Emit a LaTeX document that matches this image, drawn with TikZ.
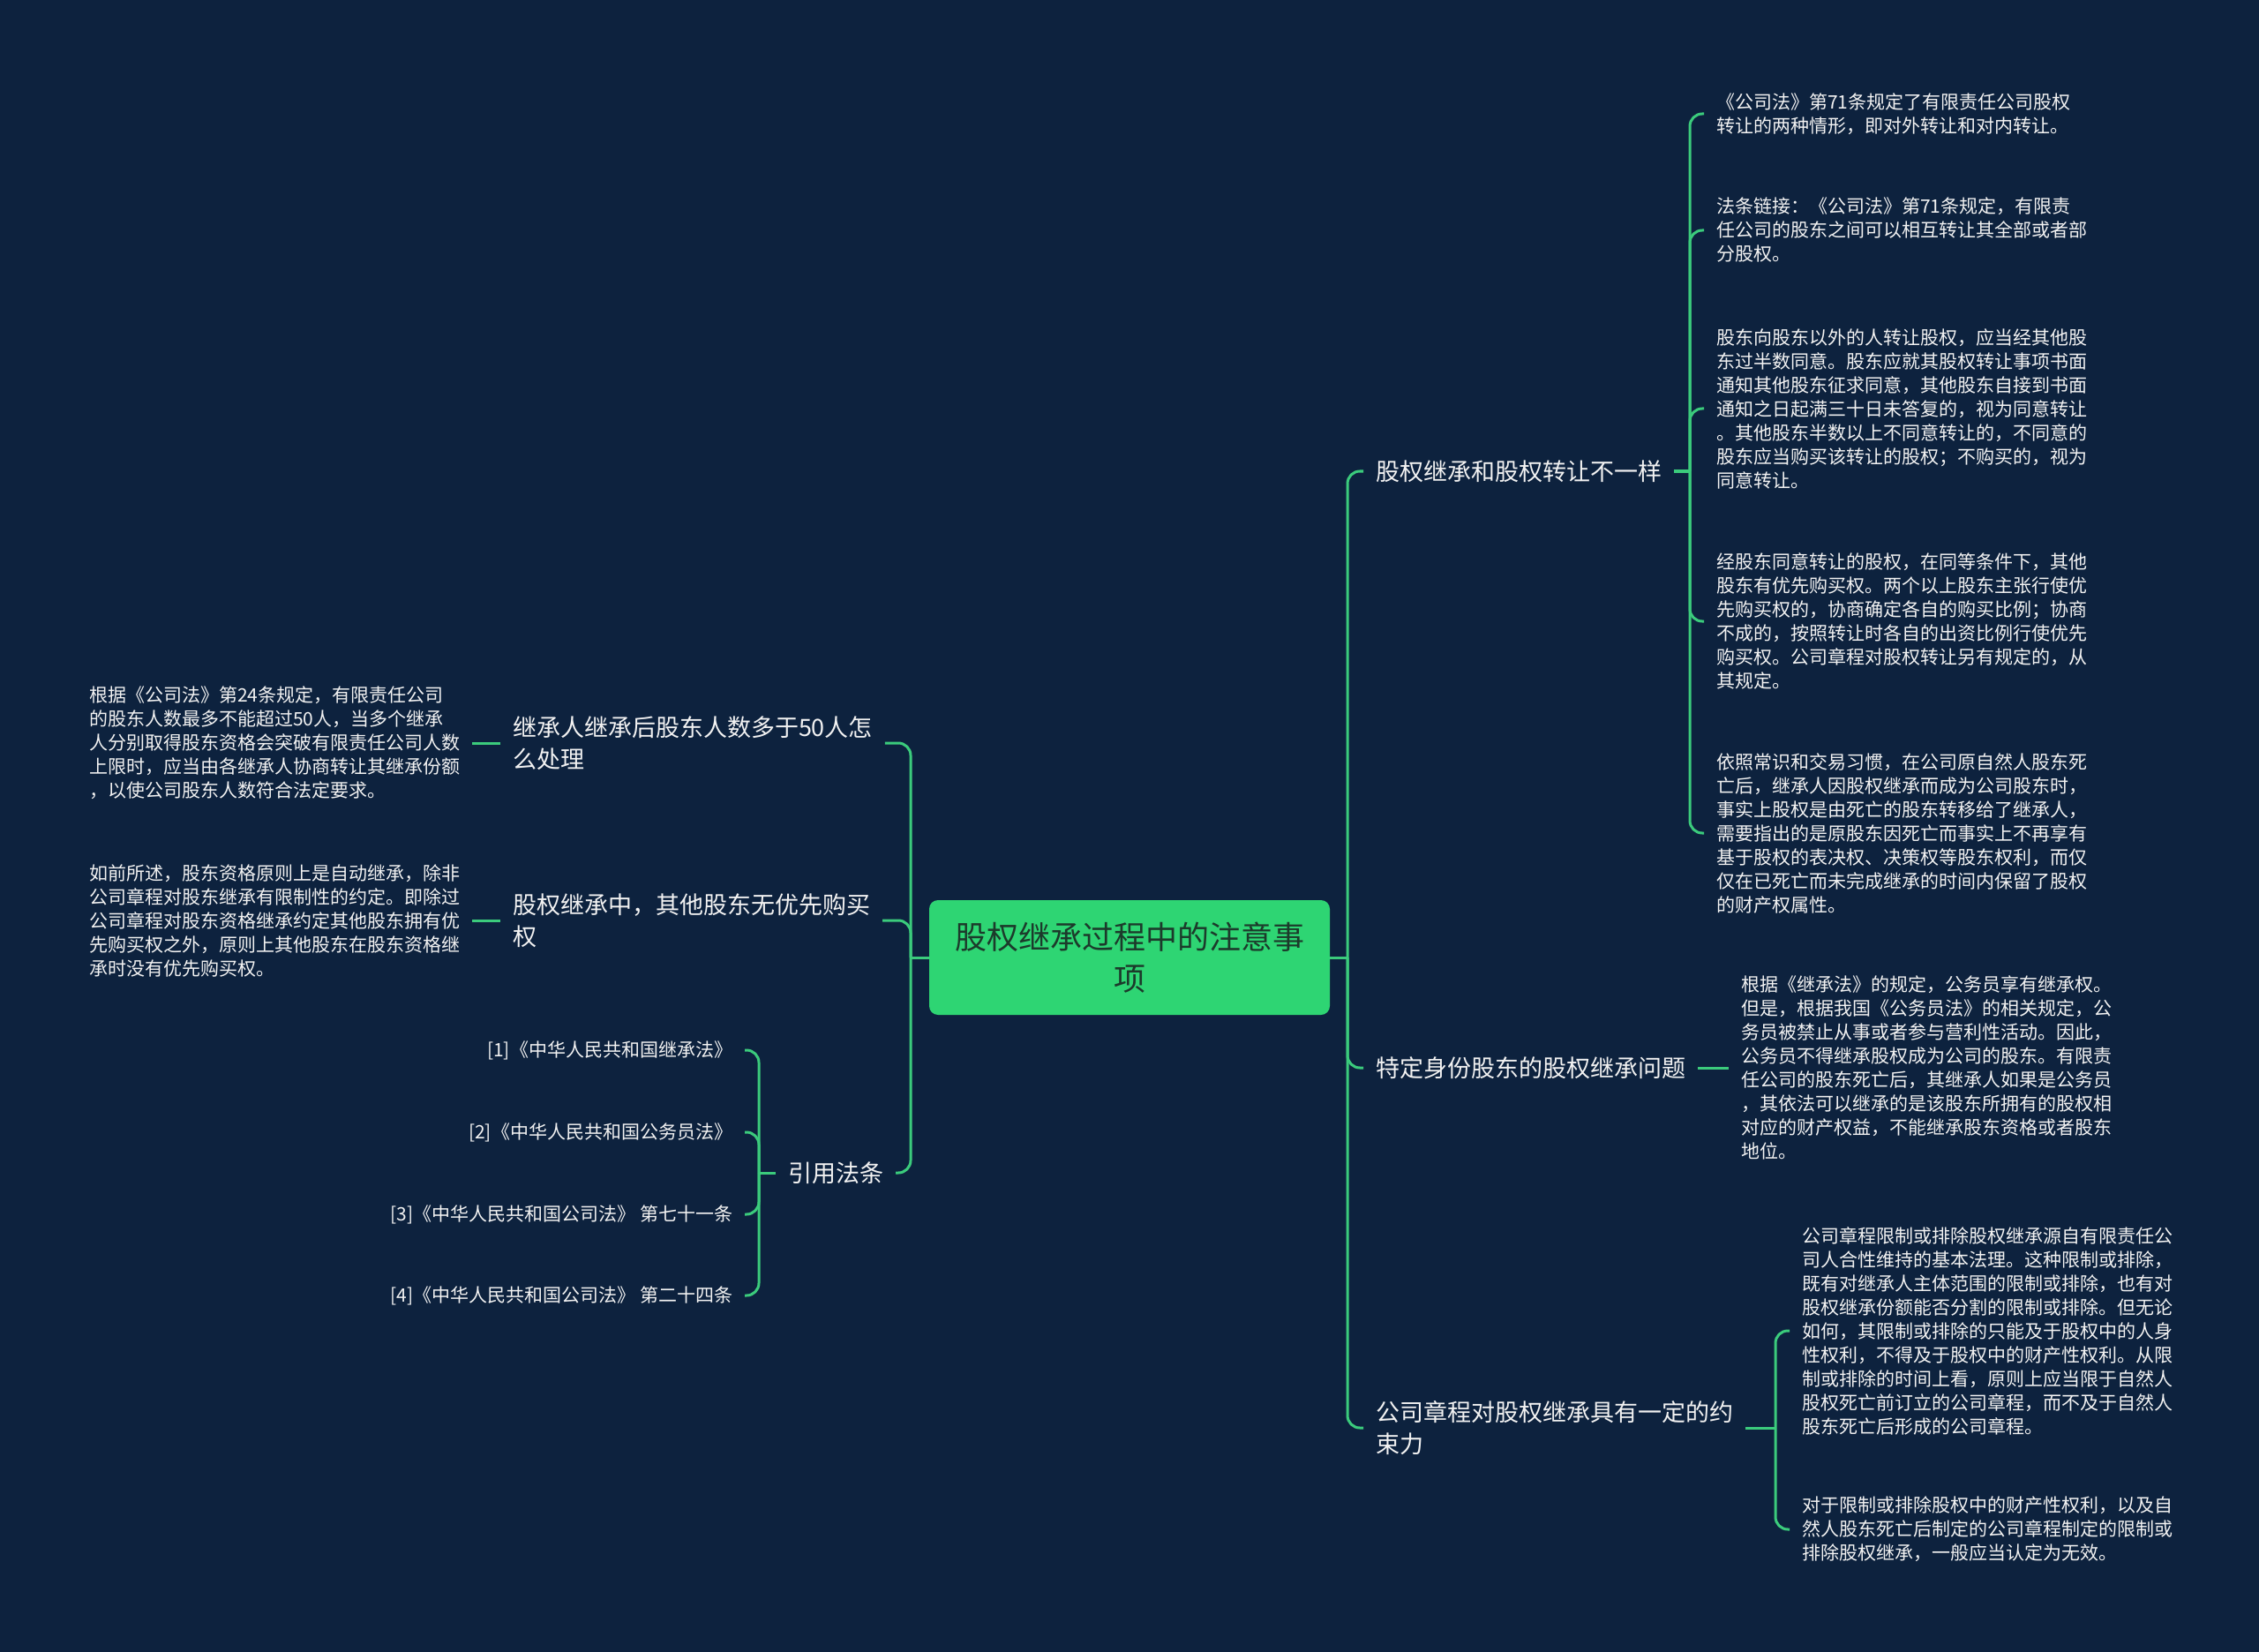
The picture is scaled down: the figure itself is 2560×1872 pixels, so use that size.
\documentclass[tikz,border=0pt]{standalone}
\usepackage{fontspec}
\setmainfont{Noto Sans CJK SC}
\usetikzlibrary{calc}
\definecolor{bg}{HTML}{0D223E}
\definecolor{lineg}{HTML}{3BCB7C}
\definecolor{rootg}{HTML}{2ED573}
\definecolor{roottxt}{HTML}{1C3A2B}
\definecolor{txt}{HTML}{F2F2F2}
\begin{document}
\begin{tikzpicture}[x=0.5pt,y=-0.5pt,
  conn/.style={draw=lineg,line width=1.5pt,rounded corners=7pt},
  leaf/.style={text=txt,font=\fontsize{10.5pt}{13.5pt}\selectfont,align=left,inner sep=0pt,outer xsep=7pt,outer ysep=0pt},
  branch/.style={text=txt,font=\fontsize{13.5pt}{18pt}\selectfont,align=left,inner sep=0pt,outer xsep=7pt,outer ysep=0pt},
  rootbox/.style={fill=rootg,rounded corners=5pt,minimum width=227pt,minimum height=65pt,align=center,
    text=roottxt,font=\fontsize{18pt}{23.5pt}\selectfont,inner sep=0pt,outer sep=0pt}]
\useasboundingbox (0,0) rectangle (2560,1872);
\fill[bg] (0,0) rectangle (2560,1872);

% root
\node[rootbox] (root) at (1280,1085) {股权继承过程中的注意事\\项};

% right branches
\node[branch,anchor=west] (b1) at (1545,534) {股权继承和股权转让不一样};
\node[branch,anchor=west] (b2) at (1545,1210) {特定身份股东的股权继承问题};
\node[branch,anchor=west] (b3) at (1545,1618) {公司章程对股权继承具有一定的约\\束力};

% right leaves of b1
\node[leaf,anchor=west] (r1) at (1931,129) {《公司法》第71条规定了有限责任公司股权\\转让的两种情形，即对外转让和对内转让。};
\node[leaf,anchor=west] (r2) at (1931,261) {法条链接：《公司法》第71条规定，有限责\\任公司的股东之间可以相互转让其全部或者部\\分股权。};
\node[leaf,anchor=west] (r3) at (1931,463) {股东向股东以外的人转让股权，应当经其他股\\东过半数同意。股东应就其股权转让事项书面\\通知其他股东征求同意，其他股东自接到书面\\通知之日起满三十日未答复的，视为同意转让\\。其他股东半数以上不同意转让的，不同意的\\股东应当购买该转让的股权；不购买的，视为\\同意转让。};
\node[leaf,anchor=west] (r4) at (1931,704) {经股东同意转让的股权，在同等条件下，其他\\股东有优先购买权。两个以上股东主张行使优\\先购买权的，协商确定各自的购买比例；协商\\不成的，按照转让时各自的出资比例行使优先\\购买权。公司章程对股权转让另有规定的，从\\其规定。};
\node[leaf,anchor=west] (r5) at (1931,944) {依照常识和交易习惯，在公司原自然人股东死\\亡后，继承人因股权继承而成为公司股东时，\\事实上股权是由死亡的股东转移给了继承人，\\需要指出的是原股东因死亡而事实上不再享有\\基于股权的表决权、决策权等股东权利，而仅\\仅在已死亡而未完成继承的时间内保留了股权\\的财产权属性。};

% leaf of b2
\node[leaf,anchor=west] (q1) at (1959,1210) {根据《继承法》的规定，公务员享有继承权。\\但是，根据我国《公务员法》的相关规定，公\\务员被禁止从事或者参与营利性活动。因此，\\公务员不得继承股权成为公司的股东。有限责\\任公司的股东死亡后，其继承人如果是公务员\\，其依法可以继承的是该股东所拥有的股权相\\对应的财产权益，不能继承股东资格或者股东\\地位。};

% leaves of b3
\node[leaf,anchor=west] (p1) at (2028,1508) {公司章程限制或排除股权继承源自有限责任公\\司人合性维持的基本法理。这种限制或排除，\\既有对继承人主体范围的限制或排除，也有对\\股权继承份额能否分割的限制或排除。但无论\\如何，其限制或排除的只能及于股权中的人身\\性权利，不得及于股权中的财产性权利。从限\\制或排除的时间上看，原则上应当限于自然人\\股权死亡前订立的公司章程，而不及于自然人\\股东死亡后形成的公司章程。};
\node[leaf,anchor=west] (p2) at (2028,1733) {对于限制或排除股权中的财产性权利，以及自\\然人股东死亡后制定的公司章程制定的限制或\\排除股权继承，一般应当认定为无效。};

% left branches
\node[branch,anchor=west] (L1) at (567,842) {继承人继承后股东人数多于50人怎\\么处理};
\node[branch,anchor=west] (L2) at (567,1043) {股权继承中，其他股东无优先购买\\权};
\node[branch,anchor=west] (L3) at (879,1329) {引用法条};

\node[leaf,anchor=west] (LL1) at (87,842) {根据《公司法》第24条规定，有限责任公司\\的股东人数最多不能超过50人，当多个继承\\人分别取得股东资格会突破有限责任公司人数\\上限时，应当由各继承人协商转让其继承份额\\，以使公司股东人数符合法定要求。};
\node[leaf,anchor=west] (LL2) at (87,1043) {如前所述，股东资格原则上是自动继承，除非\\公司章程对股东继承有限制性的约定。即除过\\公司章程对股东资格继承约定其他股东拥有优\\先购买权之外，原则上其他股东在股东资格继\\承时没有优先购买权。};

\node[leaf,anchor=east] (f1) at (844,1190) {[1]《中华人民共和国继承法》};
\node[leaf,anchor=east] (f2) at (844,1283) {[2]《中华人民共和国公务员法》};
\node[leaf,anchor=east] (f3) at (844,1376) {[3]《中华人民共和国公司法》 第七十一条};
\node[leaf,anchor=east] (f4) at (844,1468) {[4]《中华人民共和国公司法》 第二十四条};

% junction coordinates
\coordinate (rt) at (1527,1085);
\coordinate (lt) at (1032,1085);
\coordinate (s1) at (1915,534);
\coordinate (s3) at (2012,1618);
\coordinate (sL) at (860,1329);

% connectors: root
\draw[conn] (root.east) -- (rt);
\draw[conn] (rt) |- (b1.west);
\draw[conn] (rt) |- (b2.west);
\draw[conn] (rt) |- (b3.west);
\draw[conn] (root.west) -- (lt);
\draw[conn] (lt) |- (L1.east);
\draw[conn] (lt) |- (L2.east);
\draw[conn] (lt) |- (L3.east);

% b1 leaves
\draw[conn] (b1.east) -- (s1);
\foreach \n in {r1,r2,r3,r4,r5} \draw[conn] (s1) |- (\n.west);
% b2 leaf
\draw[conn] (b2.east) -- (q1.west);
% b3 leaves
\draw[conn] (b3.east) -- (s3);
\foreach \n in {p1,p2} \draw[conn] (s3) |- (\n.west);
% left leaves
\draw[conn] (L1.west) -- (LL1.east);
\draw[conn] (L2.west) -- (LL2.east);
\draw[conn] (L3.west) -- (sL);
\foreach \n in {f1,f2,f3,f4} \draw[conn] (sL) |- (\n.east);
\end{tikzpicture}
\end{document}
